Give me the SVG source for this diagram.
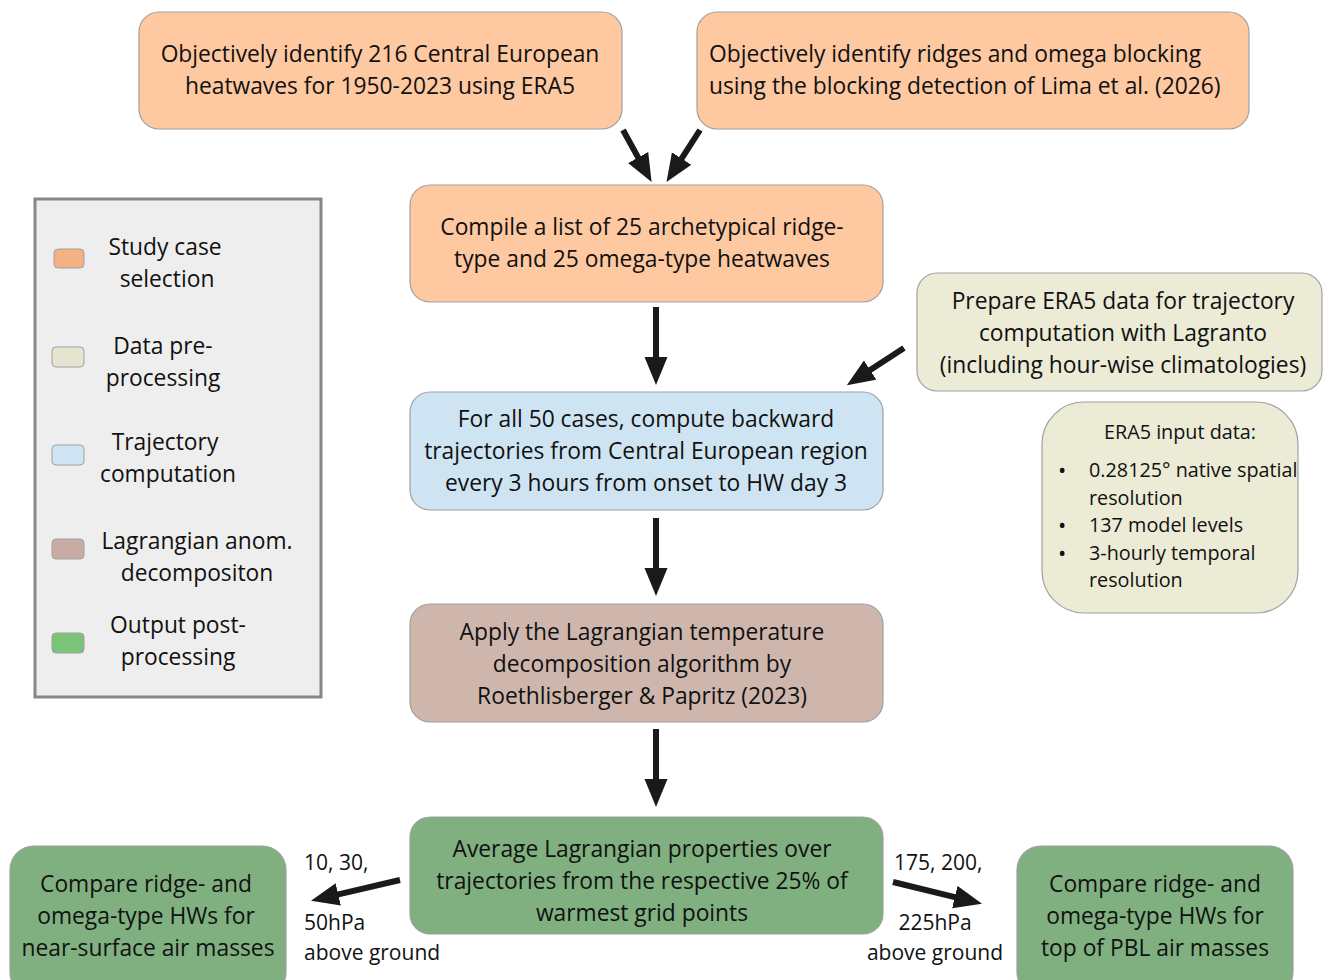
<svg xmlns="http://www.w3.org/2000/svg" width="1323" height="980" viewBox="0 0 1323 980">
<style>
text{font-family:"Open Sans","Noto Sans","DejaVu Sans",sans-serif;font-size:22.8px;fill:#111}
.c{text-anchor:middle}
.box{stroke:#a0a0a0;stroke-width:1.2}
.peach{fill:#fec8a1}
.beige{fill:#ebebd6}
.blue{fill:#cfe4f2}
.brown{fill:#cfb6ad}
.green{fill:#80b07f}
.sw{stroke:#a0a0a0;stroke-width:1}
.arr{stroke:#1a1a1a;stroke-width:6;fill:none;marker-end:url(#ah)}
.small{font-size:19.8px}
.lbl{font-size:21px}
.bul{font-size:22px}
</style>
<defs>
<marker id="ah" markerUnits="userSpaceOnUse" markerWidth="30" markerHeight="24" refX="1" refY="11.5" orient="auto" viewBox="0 0 30 23">
<path d="M0,0 L28,11.5 L0,23 z" fill="#1a1a1a"/>
</marker>
</defs>
<rect width="1323" height="980" fill="#fff"/>

<g id="legend">
<rect x="35" y="199" width="286" height="498" fill="#eeeeee" stroke="#878787" stroke-width="3"/>
<rect class="sw" x="54" y="249" width="30" height="19" rx="4" fill="#f4b183"/>
<rect class="sw" x="52" y="347" width="32" height="20" rx="4" fill="#e4e4d0"/>
<rect class="sw" x="52" y="445" width="32" height="20" rx="4" fill="#cfe4f2"/>
<rect class="sw" x="52" y="539" width="32" height="20" rx="4" fill="#c8aca3"/>
<rect class="sw" x="52" y="633" width="32" height="20" rx="4" fill="#7ac47a"/>
<text class="c" x="165" y="255">Study case</text>
<text class="c" x="167" y="287">selection</text>
<text class="c" x="163" y="354">Data pre-</text>
<text class="c" x="163" y="386">processing</text>
<text class="c" x="165" y="450">Trajectory</text>
<text class="c" x="168" y="482">computation</text>
<text class="c" x="197" y="549">Lagrangian anom.</text>
<text class="c" x="197" y="581">decompositon</text>
<text class="c" x="178" y="633">Output post-</text>
<text class="c" x="178" y="665">processing</text>
</g>

<g id="n1">
<rect class="box peach" x="139" y="12" width="483" height="117" rx="20"/>
<text class="c" x="380" y="62">Objectively identify 216 Central European</text>
<text class="c" x="380" y="94">heatwaves for 1950-2023 using ERA5</text>
</g>
<g id="n2">
<rect class="box peach" x="697" y="12" width="552" height="117" rx="20"/>
<text x="709" y="62">Objectively identify ridges and omega blocking</text>
<text x="709" y="94">using the blocking detection of Lima et al. (2026)</text>
</g>
<g id="n3">
<rect class="box peach" x="410" y="185" width="473" height="117" rx="20"/>
<text class="c" x="642" y="235">Compile a list of 25 archetypical ridge-</text>
<text class="c" x="642" y="267">type and 25 omega-type heatwaves</text>
</g>
<g id="n4">
<rect class="box beige" x="917" y="273" width="405" height="118" rx="20"/>
<text class="c" x="1123" y="309">Prepare ERA5 data for trajectory</text>
<text class="c" x="1123" y="341">computation with Lagranto</text>
<text class="c" x="1123" y="373">(including hour-wise climatologies)</text>
</g>
<g id="n5">
<rect class="box beige" x="1042" y="402" width="256" height="211" rx="42"/>
<text class="c small" x="1180" y="439">ERA5 input data:</text>
<text class="bul" x="1058" y="478">•</text>
<text class="small" x="1089" y="477">0.28125° native spatial</text>
<text class="small" x="1089" y="505">resolution</text>
<text class="bul" x="1058" y="533">•</text>
<text class="small" x="1089" y="532">137 model levels</text>
<text class="bul" x="1058" y="561">•</text>
<text class="small" x="1089" y="560">3-hourly temporal</text>
<text class="small" x="1089" y="587">resolution</text>
</g>
<g id="n6">
<rect class="box blue" x="410" y="392" width="473" height="118" rx="20"/>
<text class="c" x="646" y="427">For all 50 cases, compute backward</text>
<text class="c" x="646" y="459">trajectories from Central European region</text>
<text class="c" x="646" y="491">every 3 hours from onset to HW day 3</text>
</g>
<g id="n7">
<rect class="box brown" x="410" y="604" width="473" height="118" rx="20"/>
<text class="c" x="642" y="640">Apply the Lagrangian temperature</text>
<text class="c" x="642" y="672">decomposition algorithm by</text>
<text class="c" x="642" y="704">Roethlisberger &amp; Papritz (2023)</text>
</g>
<g id="n8">
<rect class="box green" x="410" y="817" width="473" height="117" rx="20"/>
<text class="c" x="642" y="857">Average Lagrangian properties over</text>
<text class="c" x="642" y="889">trajectories from the respective 25% of</text>
<text class="c" x="642" y="921">warmest grid points</text>
</g>
<g id="n9">
<rect class="box green" x="10" y="846" width="276" height="150" rx="24"/>
<text class="c" x="146" y="892">Compare ridge- and</text>
<text class="c" x="146" y="924">omega-type HWs for</text>
<text class="c" x="148" y="956">near-surface air masses</text>
</g>
<g id="n10">
<rect class="box green" x="1017" y="846" width="276" height="150" rx="24"/>
<text class="c" x="1155" y="892">Compare ridge- and</text>
<text class="c" x="1155" y="924">omega-type HWs for</text>
<text class="c" x="1155" y="956">top of PBL air masses</text>
</g>

<g id="connectors">
<line class="arr" x1="623" y1="130" x2="638.6" y2="158.4"/>
<line class="arr" x1="700" y1="130" x2="681.1" y2="159.4"/>
<line class="arr" x1="656" y1="307" x2="656" y2="358"/>
<line class="arr" x1="904" y1="348" x2="869.4" y2="370.6"/>
<line class="arr" x1="656" y1="518" x2="656" y2="569"/>
<line class="arr" x1="656" y1="729" x2="656" y2="780"/>
<line class="arr" x1="400" y1="880" x2="337.3" y2="894.6"/>
<line class="arr" x1="893" y1="882" x2="955.8" y2="897.3"/>
<text class="lbl" x="304" y="870">10, 30,</text>
<text class="lbl" x="304" y="930">50hPa</text>
<text class="lbl" x="304" y="960">above ground</text>
<text class="lbl" x="894" y="870">175, 200,</text>
<text class="c lbl" x="935" y="930">225hPa</text>
<text class="c lbl" x="935" y="960">above ground</text>
</g>
</svg>
